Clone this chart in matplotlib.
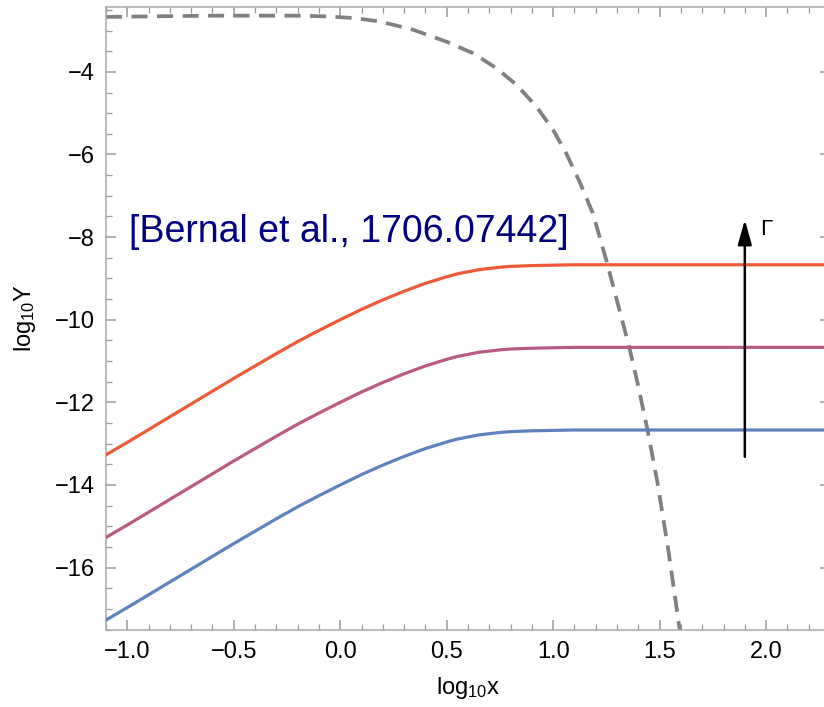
import matplotlib
matplotlib.use("Agg")
import matplotlib.pyplot as plt
from matplotlib.ticker import MultipleLocator, FuncFormatter

plt.rcParams['font.family'] = ['Liberation Sans', 'DejaVu Sans']
plt.rcParams['mathtext.fontset'] = 'custom'
plt.rcParams['mathtext.rm'] = 'Liberation Sans'
plt.rcParams['mathtext.it'] = 'Liberation Sans:italic'

# ---- data ----
curve_x = [-1.10, -1.00, -0.90, -0.80, -0.70, -0.60, -0.50, -0.40, -0.30, -0.20, -0.10,
           0.00, 0.10, 0.20, 0.30, 0.40, 0.50, 0.55, 0.60, 0.65, 0.70, 0.75, 0.80, 0.85,
           0.90, 1.00, 1.10, 1.50, 2.30]
red_y = [-13.27, -12.97, -12.66, -12.35, -12.04, -11.73, -11.42, -11.12, -10.82, -10.53,
         -10.26, -10.00, -9.75, -9.52, -9.31, -9.12, -8.96, -8.89, -8.84, -8.79, -8.76,
         -8.73, -8.71, -8.70, -8.69, -8.68, -8.67, -8.67, -8.67]
purple_y = [-15.27, -14.97, -14.66, -14.35, -14.04, -13.73, -13.42, -13.12, -12.82, -12.53,
            -12.26, -12.00, -11.75, -11.52, -11.31, -11.12, -10.96, -10.89, -10.84, -10.79,
            -10.76, -10.73, -10.71, -10.70, -10.69, -10.68, -10.67, -10.67, -10.67]
blue_y = [-17.27, -16.97, -16.66, -16.35, -16.04, -15.73, -15.42, -15.12, -14.82, -14.53,
          -14.26, -14.00, -13.75, -13.52, -13.31, -13.12, -12.96, -12.89, -12.84, -12.79,
          -12.76, -12.73, -12.71, -12.70, -12.69, -12.68, -12.67, -12.67, -12.67]

dash_x = [-1.10, -0.60, -0.20, -0.05, 0.07, 0.186, 0.342, 0.499, 0.624, 0.733, 0.827,
          0.921, 0.999, 1.061, 1.124, 1.186, 1.249, 1.311, 1.358, 1.40, 1.443, 1.49,
          1.54, 1.593, 1.61]
dash_y = [-2.67, -2.64, -2.64, -2.66, -2.70, -2.78, -2.98, -3.27, -3.55, -3.91, -4.31,
          -4.84, -5.40, -5.97, -6.66, -7.42, -8.55, -9.76, -10.68, -11.62, -12.67, -13.95,
          -15.55, -17.46, -18.0]

arrow_x = 1.90
arrow_y0, arrow_y1 = -13.32, -7.58
annot_text = "[Bernal et al., 1706.07442]"

xlim = (-1.1, 2.3)
ylim = (-17.5, -2.43)

# ---- figure ----
W, H = 824, 707
fig = plt.figure(figsize=(W / 100, H / 100), dpi=100)
ax = fig.add_axes([106 / W, (H - 629.5) / H, (830 - 106) / W, (629.5 - 7) / H])

ax.plot(dash_x, dash_y, color='#808080', lw=2.7, ls=(0, (4.3, 2.5)), zorder=2)
ax.plot(curve_x, blue_y, color='#5D82BE', lw=2.3, zorder=3)
ax.plot(curve_x, purple_y, color='#BA5A82', lw=2.3, zorder=3)
ax.plot(curve_x, red_y, color='#EE5A37', lw=2.3, zorder=3)

ax.annotate('', xy=(arrow_x, arrow_y1), xytext=(arrow_x, arrow_y0),
            arrowprops=dict(arrowstyle='-|>,head_length=1.5,head_width=0.42',
                            color='black', lw=1.8, shrinkA=0, shrinkB=0), zorder=5)
ax.text(arrow_x + 0.07, arrow_y1 + 0.02, 'Γ', fontsize=16, va='top', ha='left')

ax.text(-0.99, -8.12, annot_text, color='#000080', fontsize=27, ha='left',
        va='baseline')

ax.set_xlim(*xlim)
ax.set_ylim(*ylim)
ax.xaxis.set_major_locator(MultipleLocator(0.5))
ax.xaxis.set_minor_locator(MultipleLocator(0.1))
ax.yaxis.set_major_locator(MultipleLocator(2))
ax.yaxis.set_minor_locator(MultipleLocator(0.5))
ax.xaxis.set_major_formatter(FuncFormatter(
    lambda v, p: ('−' if v < -1e-9 else '') + f'{abs(v):.1f}'))
ax.yaxis.set_major_formatter(FuncFormatter(
    lambda v, p: ('−' if v < -1e-9 else '') + f'{abs(v):.0f}'))

ax.tick_params(which='both', direction='in', top=True, right=True,
               color='#999999', labelsize=17, labelcolor='black')
ax.tick_params(which='major', length=7, width=1.1, pad=8)
ax.tick_params(which='minor', length=4, width=0.9)
for s in ax.spines.values():
    s.set_color('#aaaaaa')
    s.set_linewidth(1.1)

ax.set_xlabel('log$_{10}$x', fontsize=17, labelpad=9)
ax.set_ylabel('log$_{10}$Y', fontsize=17, labelpad=12)

fig.savefig('out.png', dpi=100)
